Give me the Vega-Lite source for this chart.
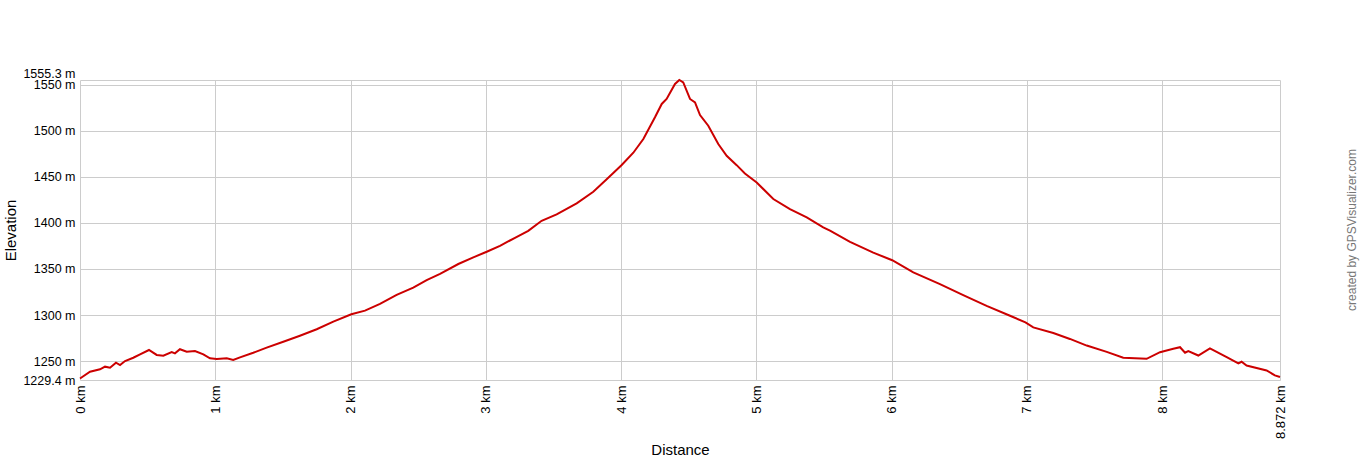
{
  "$schema": "https://vega.github.io/schema/vega-lite/v6.json",
  "width": 1200,
  "height": 300,
  "autosize": {"type": "none"},
  "padding": {"left": 80, "top": 80, "right": 80, "bottom": 80},
  "background": "white",
  "title": {
    "text": "created by GPSVisualizer.com",
    "orient": "right",
    "angle": 270,
    "anchor": "middle",
    "baseline": "middle",
    "offset": 53,
    "font": "Liberation Sans",
    "fontSize": 12,
    "fontWeight": "normal",
    "color": "#777777"
  },
  "config": {
    "view": {"stroke": null},
    "font": "Liberation Sans"
  },
  "data": {
    "values": [
      {"km": 0.0, "ele": 1231.0},
      {"km": 0.074, "ele": 1238.4},
      {"km": 0.148, "ele": 1241.0},
      {"km": 0.185, "ele": 1243.9},
      {"km": 0.222, "ele": 1242.8},
      {"km": 0.266, "ele": 1248.2},
      {"km": 0.296, "ele": 1245.7},
      {"km": 0.333, "ele": 1250.0},
      {"km": 0.394, "ele": 1253.6},
      {"km": 0.444, "ele": 1257.3},
      {"km": 0.51, "ele": 1262.0},
      {"km": 0.567, "ele": 1256.6},
      {"km": 0.616, "ele": 1255.8},
      {"km": 0.678, "ele": 1259.8},
      {"km": 0.702, "ele": 1258.4},
      {"km": 0.739, "ele": 1262.8},
      {"km": 0.789, "ele": 1260.2},
      {"km": 0.85, "ele": 1260.9},
      {"km": 0.912, "ele": 1257.3},
      {"km": 0.961, "ele": 1252.9},
      {"km": 1.011, "ele": 1252.2},
      {"km": 1.085, "ele": 1252.9},
      {"km": 1.133, "ele": 1251.1},
      {"km": 1.183, "ele": 1254.0},
      {"km": 1.281, "ele": 1259.0},
      {"km": 1.38, "ele": 1264.5},
      {"km": 1.503, "ele": 1271.0},
      {"km": 1.626, "ele": 1277.5},
      {"km": 1.75, "ele": 1284.5},
      {"km": 1.873, "ele": 1292.8},
      {"km": 2.006, "ele": 1300.8},
      {"km": 2.107, "ele": 1304.8},
      {"km": 2.218, "ele": 1312.0},
      {"km": 2.341, "ele": 1321.8},
      {"km": 2.464, "ele": 1329.7},
      {"km": 2.563, "ele": 1338.0},
      {"km": 2.662, "ele": 1344.6},
      {"km": 2.797, "ele": 1355.4},
      {"km": 2.908, "ele": 1362.6},
      {"km": 3.007, "ele": 1368.7},
      {"km": 3.105, "ele": 1375.2},
      {"km": 3.216, "ele": 1383.9},
      {"km": 3.314, "ele": 1391.5},
      {"km": 3.413, "ele": 1402.4},
      {"km": 3.524, "ele": 1409.3},
      {"km": 3.672, "ele": 1421.3},
      {"km": 3.795, "ele": 1433.9},
      {"km": 3.894, "ele": 1447.4},
      {"km": 4.005, "ele": 1462.9},
      {"km": 4.091, "ele": 1476.3},
      {"km": 4.165, "ele": 1491.2},
      {"km": 4.251, "ele": 1514.8},
      {"km": 4.301, "ele": 1529.3},
      {"km": 4.337, "ele": 1534.7},
      {"km": 4.399, "ele": 1551.0},
      {"km": 4.431, "ele": 1555.3},
      {"km": 4.46, "ele": 1552.6},
      {"km": 4.51, "ele": 1534.7},
      {"km": 4.547, "ele": 1531.0},
      {"km": 4.584, "ele": 1517.2},
      {"km": 4.645, "ele": 1505.6},
      {"km": 4.719, "ele": 1485.7},
      {"km": 4.781, "ele": 1473.0},
      {"km": 4.855, "ele": 1462.8},
      {"km": 4.916, "ele": 1453.7},
      {"km": 5.003, "ele": 1444.0},
      {"km": 5.126, "ele": 1426.0},
      {"km": 5.249, "ele": 1415.0},
      {"km": 5.373, "ele": 1406.0},
      {"km": 5.495, "ele": 1395.2},
      {"km": 5.545, "ele": 1391.6},
      {"km": 5.693, "ele": 1379.5},
      {"km": 5.865, "ele": 1367.8},
      {"km": 6.005, "ele": 1359.5},
      {"km": 6.161, "ele": 1346.3},
      {"km": 6.358, "ele": 1333.6},
      {"km": 6.53, "ele": 1321.6},
      {"km": 6.703, "ele": 1310.0},
      {"km": 6.876, "ele": 1299.2},
      {"km": 6.99, "ele": 1292.0},
      {"km": 7.048, "ele": 1286.6},
      {"km": 7.196, "ele": 1280.5},
      {"km": 7.319, "ele": 1274.0},
      {"km": 7.443, "ele": 1266.8},
      {"km": 7.591, "ele": 1260.0},
      {"km": 7.713, "ele": 1253.5},
      {"km": 7.886, "ele": 1252.4},
      {"km": 7.985, "ele": 1259.6},
      {"km": 8.083, "ele": 1263.3},
      {"km": 8.133, "ele": 1265.0},
      {"km": 8.17, "ele": 1259.0},
      {"km": 8.194, "ele": 1260.8},
      {"km": 8.268, "ele": 1256.0},
      {"km": 8.354, "ele": 1263.7},
      {"km": 8.478, "ele": 1254.2},
      {"km": 8.564, "ele": 1247.4},
      {"km": 8.588, "ele": 1249.2},
      {"km": 8.625, "ele": 1245.2},
      {"km": 8.773, "ele": 1239.8},
      {"km": 8.834, "ele": 1234.4},
      {"km": 8.872, "ele": 1232.6}
    ]
  },
  "mark": {"type": "line", "color": "#cc0000", "strokeWidth": 2, "interpolate": "linear"},
  "encoding": {
    "x": {
      "field": "km",
      "type": "quantitative",
      "scale": {"domain": [0, 8.872], "nice": false, "zero": false},
      "axis": {
        "title": "Distance",
        "titleFont": "Liberation Sans",
        "titleFontSize": 15,
        "titleFontWeight": "normal",
        "titleColor": "#000000",
        "titleY": 62,
        "titleBaseline": "top",
        "values": [0, 1, 2, 3, 4, 5, 6, 7, 8, 8.872],
        "labelExpr": "datum.value + ' km'",
        "labelAngle": 270,
        "labelAlign": "right",
        "labelBaseline": "middle",
        "labelFont": "Liberation Sans",
        "labelFontSize": 13,
        "labelColor": "#000000",
        "labelPadding": 5,
        "labelOverlap": false,
        "labelFlush": false,
        "ticks": false,
        "domain": false,
        "grid": true,
        "gridColor": "#cccccc",
        "gridWidth": 1
      }
    },
    "y": {
      "field": "ele",
      "type": "quantitative",
      "scale": {"domain": [1229.4, 1555.3], "nice": false, "zero": false},
      "axis": {
        "title": "Elevation",
        "titleFont": "Liberation Sans",
        "titleFontSize": 15,
        "titleFontWeight": "normal",
        "titleColor": "#000000",
        "titlePadding": 4,
        "values": [1229.4, 1250, 1300, 1350, 1400, 1450, 1500, 1550, 1555.3],
        "labelExpr": "datum.value + ' m'",
        "labelFont": "Liberation Sans",
        "labelFontSize": 12.5,
        "labelColor": "#000000",
        "labelPadding": 5,
        "labelOverlap": false,
        "labelFlush": false,
        "labelBaseline": {"condition": {"test": "datum.value > 1555", "value": "bottom"}, "value": "middle"},
        "ticks": false,
        "domain": false,
        "grid": true,
        "gridColor": "#cccccc",
        "gridWidth": 1
      }
    }
  }
}
